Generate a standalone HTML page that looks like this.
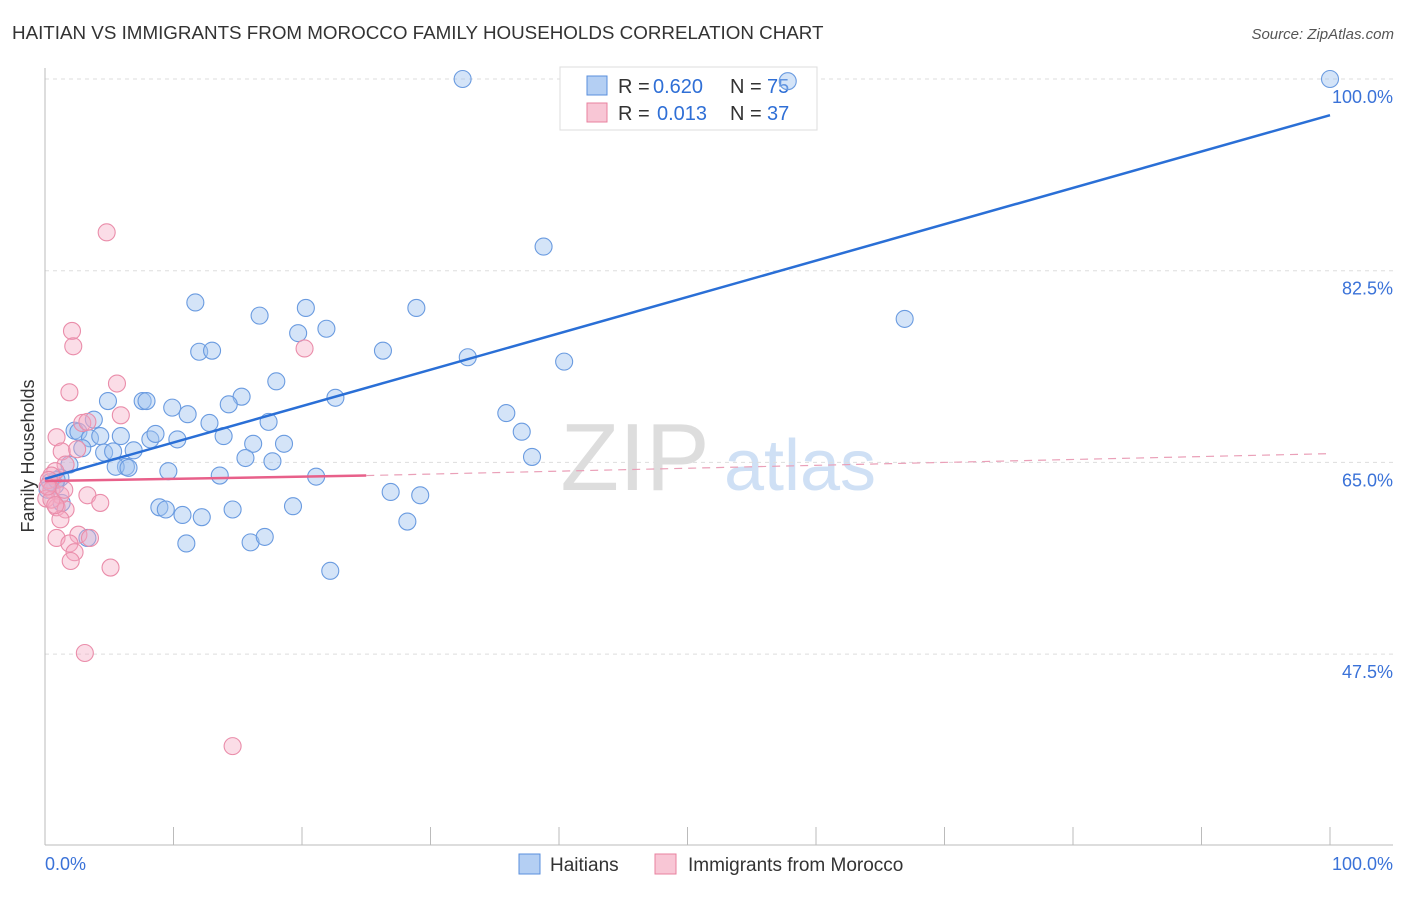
<!DOCTYPE html>
<html><head><meta charset="utf-8"><style>
body{margin:0;background:#fff;font-family:"Liberation Sans",sans-serif}
svg text{font-family:"Liberation Sans",sans-serif}
</style></head><body>
<svg id="c" width="1406" height="892">
<text x="12" y="39" font-size="18.8" fill="#333">HAITIAN VS IMMIGRANTS FROM MOROCCO FAMILY HOUSEHOLDS CORRELATION CHART</text>
<text x="1394" y="39" font-size="15" fill="#555" font-style="italic" text-anchor="end">Source: ZipAtlas.com</text>
<text transform="translate(34,456) rotate(-90)" font-size="18" fill="#333" text-anchor="middle">Family Households</text>
<g><text x="635" y="490" font-size="96" fill="#ddd" font-family="Liberation Serif" text-anchor="middle">ZIP</text><text x="800" y="490" font-size="72" fill="#cfe0f5" text-anchor="middle">atlas</text></g>
<g id="grid"></g>
<g>
<rect x="560" y="67" width="257" height="63" fill="#fff" stroke="#ddd"/>
<rect x="587" y="76" width="20" height="19" fill="#b4cff3" stroke="#5a8fdc"/>
<rect x="587" y="103" width="20" height="19" fill="#f8c6d5" stroke="#e8819f"/>
<text x="618" y="93" font-size="20" fill="#333">R =</text><text x="653" y="93" font-size="20" fill="#2f6fd6">0.620</text>
<text x="730" y="93" font-size="20" fill="#333">N =</text><text x="767" y="93" font-size="20" fill="#2f6fd6">75</text>
<text x="618" y="120" font-size="20" fill="#333">R =</text><text x="657" y="120" font-size="20" fill="#2f6fd6">0.013</text>
<text x="730" y="120" font-size="20" fill="#333">N =</text><text x="767" y="120" font-size="20" fill="#2f6fd6">37</text>
</g>
<g id="pts"></g><g id="lines"></g>
<g>
<rect x="519" y="854" width="21" height="20" fill="#b4cff3" stroke="#5a8fdc"/>
<text x="550" y="871" font-size="19" fill="#333">Haitians</text>
<rect x="655" y="854" width="21" height="20" fill="#f8c6d5" stroke="#e8819f"/>
<text x="688" y="871" font-size="19" fill="#333">Immigrants from Morocco</text>
</g>
</svg>
<script>
const yTicks=[100,82.5,65,47.5];
const yTickLabels=["100.0%","82.5%","65.0%","47.5%"];
const blueX=[32.5,57.8,100,38.8,66.9,11.7,20.3,28.9,16.7,19.7,21.9,12.0,13.0,26.3,32.9,40.4,18.0,22.6,15.3,7.6,7.9,4.9,9.9,11.1,14.3,35.9,3.8,17.4,12.8,2.3,2.6,3.5,4.3,37.1,5.9,8.2,8.6,13.9,10.3,16.2,18.6,2.9,4.6,5.3,6.9,15.6,17.7,37.9,6.3,5.5,6.5,9.6,13.6,21.1,1.9,1.2,0.8,0.4,0.2,1.3,26.9,29.2,8.9,9.4,19.3,14.6,10.7,12.2,28.2,11.0,16.0,17.1,3.3,22.2,0.9];
const blueY=[100,99.8,100,84.7,78.1,79.6,79.1,79.1,78.4,76.8,77.2,75.1,75.2,75.2,74.6,74.2,72.4,70.9,71.0,70.6,70.6,70.6,70.0,69.4,70.3,69.5,68.9,68.7,68.6,67.9,67.8,67.2,67.4,67.8,67.4,67.1,67.6,67.4,67.1,66.7,66.7,66.3,65.9,66.0,66.1,65.4,65.1,65.5,64.6,64.6,64.5,64.2,63.8,63.7,64.8,63.6,62.9,63.2,62.5,61.3,62.3,62.0,60.9,60.7,61.0,60.7,60.2,60.0,59.6,57.6,57.7,58.2,58.1,55.1,63.4];
const pinkX=[4.8,2.1,2.2,20.2,5.6,1.9,5.9,2.9,3.3,0.9,1.3,2.5,1.6,0.8,0.5,0.3,0.5,1.2,0.1,0.9,1.6,0.5,3.3,4.3,1.2,0.9,2.6,3.5,1.9,2.3,2.0,5.1,3.1,14.6,0.2,1.5,0.8];
const pinkY=[86.0,77.0,75.6,75.4,72.2,71.4,69.3,68.6,68.7,67.3,66.0,66.2,64.8,64.2,63.8,63.4,62.5,62.0,61.7,60.9,60.7,61.6,62.0,61.3,59.8,58.1,58.4,58.1,57.6,56.8,56.0,55.4,47.6,39.1,62.8,62.5,61.1];
const blueTrend=[[0,63.5],[100,96.7]];
const pinkTrend=[[0,63.3],[25,63.8],[100,65.8]];
const NS="http://www.w3.org/2000/svg";
const X=v=>45+v*12.85, Y=v=>79+(100-v)/17.5*191.7;
function mk(t,a,p){const e=document.createElementNS(NS,t);for(const k in a)e.setAttribute(k,a[k]);p.appendChild(e);return e;}
const grid=document.getElementById('grid');
yTicks.forEach((t,i)=>{
 const l=mk('line',{x1:45,x2:1393,y1:Y(t),y2:Y(t),stroke:'#ddd','stroke-dasharray':'4,4'},grid);
 
 
 const tx=mk('text',{x:1393,y:Y(t)+24,'font-size':18,fill:'#3a72d8','text-anchor':'end'},grid);tx.textContent=yTickLabels[i];
 
 
});
mk('line',{x1:45,x2:45,y1:68,y2:845,stroke:'#bbb'},grid);
mk('line',{x1:45,x2:1393,y1:845,y2:845,stroke:'#bbb'},grid);
for(let i=0;i<=10;i++){const t=mk('line',{x1:X(i*10),x2:X(i*10),y1:827,y2:845,stroke:'#bbb'},grid);
 
 }
let a=mk('text',{x:45,y:870,'font-size':18,fill:'#3a72d8'},grid);a.textContent='0.0%';


a=mk('text',{x:1393,y:870,'font-size':18,fill:'#3a72d8','text-anchor':'end'},grid);a.textContent='100.0%';


const pts=document.getElementById('pts');
blueX.forEach((x,i)=>{const c=mk('circle',{cx:X(x),cy:Y(blueY[i]),r:8.5,fill:'rgba(160,196,240,0.45)',stroke:'#6a9be0','stroke-width':1.1},pts);
 
 });
pinkX.forEach((x,i)=>{const c=mk('circle',{cx:X(x),cy:Y(pinkY[i]),r:8.5,fill:'rgba(244,170,195,0.4)',stroke:'#ea8daa','stroke-width':1.1},pts);
 
 });
const L=document.getElementById('lines');
let b=mk('line',{x1:X(blueTrend[0][0]),y1:Y(blueTrend[0][1]),x2:X(blueTrend[1][0]),y2:Y(blueTrend[1][1]),stroke:'#2a6fd6','stroke-width':2.5},L);


let p=mk('line',{x1:X(pinkTrend[0][0]),y1:Y(pinkTrend[0][1]),x2:X(pinkTrend[1][0]),y2:Y(pinkTrend[1][1]),stroke:'#e8608a','stroke-width':2.5},L);


p=mk('line',{x1:X(pinkTrend[1][0]),y1:Y(pinkTrend[1][1]),x2:X(pinkTrend[2][0]),y2:Y(pinkTrend[2][1]),stroke:'#eaa0b8','stroke-width':1.2,'stroke-dasharray':'8,6'},L);


</script>
</body></html>
